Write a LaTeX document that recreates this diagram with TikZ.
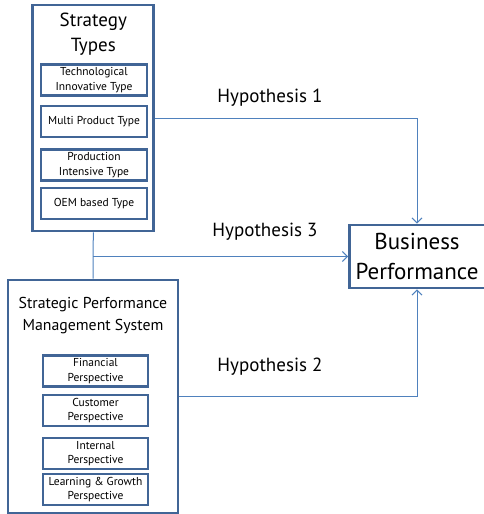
\documentclass[tikz,border=0pt]{standalone}
\usepackage{fontspec}
\setmainfont{PT Sans}
\usetikzlibrary{arrows.meta}

\definecolor{boxblue}{RGB}{65,101,150}
\definecolor{lineblue}{RGB}{79,129,189}

\begin{document}
\begin{tikzpicture}[
x=1pt, y=-1pt,
outerbox/.style={
draw=boxblue,
line width=2.8pt,
fill=white
},
itembox/.style={
draw=boxblue,
line width=2.6pt,
minimum height=31pt,
inner sep=0pt,
align=center,
font=\fontsize{11.5}{14.5}\selectfont
},
heading/.style={
align=center,
inner sep=0pt
},
conn/.style={
draw=lineblue,
line width=1pt
},
hyp/.style={
inner sep=0pt,
font=\fontsize{19}{22}\selectfont
}
]
\useasboundingbox (0,0) rectangle (483,514);

% outer groups
\node (strategy) [outerbox, minimum width=121pt, minimum height=226pt] at (93.3,118) {};
\node (spms) [outerbox, minimum width=170pt, minimum height=233pt] at (93,396.5) {};
% the result box runs off the right edge
\node (business) [outerbox, anchor=west, minimum width=160pt, minimum height=63pt] at (348,256.5) {};
\node (businesstext) [heading, font=\fontsize{23}{30}\selectfont] at (417,256.5) {Business\\Performance};

\node (strategytitle) [heading, font=\fontsize{19}{25}\selectfont] at (93.3,34.5) {Strategy\\Types};
\node (spmstitle) [heading, font=\fontsize{15.8}{22}\selectfont] at (93,316) {Strategic Performance\\Management System};

% strategy types
\node (techtype) [itembox, minimum width=106pt] at (94,80) {Technological\\Innovative Type};
\node (multitype) [itembox, minimum width=106pt] at (94,121.5) {Multi Product Type};
\node (prodtype) [itembox, minimum width=106pt] at (94,165) {Production\\Intensive Type};
\node (oemtype) [itembox, minimum width=106pt] at (94,203.5) {OEM based Type};

% perspectives
\node (financial) [itembox, minimum width=105pt] at (95.5,371) {Financial\\Perspective};
\node (customer) [itembox, minimum width=105pt] at (95.5,410.5) {Customer\\Perspective};
\node (internal) [itembox, minimum width=105pt] at (95.5,453.5) {Internal\\Perspective};
\node (learning) [itembox, minimum width=105pt] at (95.5,489.5) {Learning \& Growth\\Perspective};

% hypotheses
\coordinate (junction) at (strategy.south |- business.west);
\draw[conn] (strategy.south) -- (spms.north);
\draw[conn, -{Straight Barb[length=5pt, width=10pt]}] (strategy.east) -| (businesstext |- business.north);
\draw[conn, -{Straight Barb[length=5pt, width=10pt]}] (spms.east) -| (businesstext |- business.south);
\draw[conn, -{Straight Barb[length=5pt, width=10pt]}] (junction) -- (business.west);

\node (hyp1) [hyp] at (270,98) {Hypothesis 1};
\node (hyp3) [hyp] at (265,232) {Hypothesis 3};
\node (hyp2) [hyp] at (270,367) {Hypothesis 2};
\end{tikzpicture}
\end{document}
